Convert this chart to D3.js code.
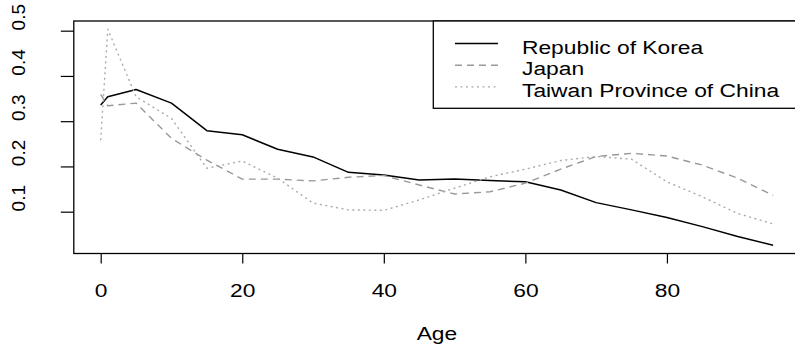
<!DOCTYPE html>
<html>
<head>
    <title>Age profile</title>
    <script src="https://cdnjs.cloudflare.com/ajax/libs/d3/7.8.5/d3.min.js"></script>
    <style>
        body { margin: 0; background: #fff; }
        svg { display: block; font-family: Arial, "Liberation Sans", sans-serif; }
        .axis path { display: none; }
        .axis line { stroke: #000; stroke-width: 1.2; }
        .axis text { fill: #000; font-size: 19px; }
    </style>
</head>
<body>
    <div id="chart"></div>
    <script>
        const ages = [0, 1, 5, 10, 15, 20, 25, 30, 35, 40, 45, 50, 55, 60, 65, 70, 75, 80, 85, 90, 95];
        const korea = [0.336, 0.354, 0.370, 0.340, 0.279, 0.270, 0.238, 0.221, 0.187, 0.181, 0.170, 0.172, 0.169, 0.166, 0.148, 0.120, 0.104, 0.087, 0.067, 0.045, 0.026];
        const japan = [0.359, 0.334, 0.340, 0.262, 0.214, 0.172, 0.172, 0.168, 0.176, 0.180, 0.159, 0.139, 0.144, 0.163, 0.194, 0.222, 0.229, 0.223, 0.203, 0.174, 0.136];
        const taiwan = [0.258, 0.503, 0.354, 0.306, 0.196, 0.212, 0.174, 0.119, 0.104, 0.103, 0.126, 0.152, 0.177, 0.194, 0.213, 0.222, 0.216, 0.166, 0.133, 0.096, 0.073];
        const seriesNames = ["Republic of Korea", "Japan", "Taiwan Province of China"];
        const xTicks = [0, 20, 40, 60, 80];
        const yTicks = [0.1, 0.2, 0.3, 0.4, 0.5];

        const W = 795, H = 346;
        // plot box runs slightly past the right edge of the picture
        const box = {left: 73.8, right: 800, top: 21, bottom: 253.5};
        const sx = 1.2; // horizontal text stretch seen in the reference

        const svg = d3.select("#chart")
            .append("svg")
            .attr("width", W)
            .attr("height", H);

        const x = d3.scaleLinear()
            .domain([-3.8, 98.8])
            .range([box.left, box.right]);

        const y = d3.scaleLinear()
            .domain([0.0076, 0.5214])
            .range([box.bottom, box.top]);

        const styles = [
            {color: "#000", width: 1.5, dash: null},
            {color: "#999", width: 1.4, dash: "7,5"},
            {color: "#aaa", width: 1.4, dash: "2,3.5"}
        ];
        const series = [korea, japan, taiwan];

        const line = d3.line()
            .x((d, i) => x(ages[i]))
            .y(d => y(d));

        series.forEach((vals, k) => {
            svg.append("path")
                .datum(vals)
                .attr("fill", "none")
                .attr("stroke", styles[k].color)
                .attr("stroke-width", styles[k].width)
                .attr("stroke-dasharray", styles[k].dash)
                .attr("stroke-linejoin", "round")
                .attr("d", line);
        });

        // box
        svg.append("rect")
            .attr("x", box.left)
            .attr("y", box.top)
            .attr("width", box.right - box.left)
            .attr("height", box.bottom - box.top)
            .attr("fill", "none")
            .attr("stroke", "#000")
            .attr("stroke-width", 1.3);

        // x axis
        const gx = svg.append("g")
            .attr("class", "axis")
            .attr("transform", `translate(0,${box.bottom})`)
            .call(d3.axisBottom(x)
                .tickValues(xTicks)
                .tickSize(10)
                .tickFormat(d3.format("d")));
        gx.selectAll("text")
            .attr("y", 0)
            .attr("dy", 0)
            .attr("transform", `translate(0,43) scale(${sx},1)`);

        // y axis, labels turned like R's las=0
        const gy = svg.append("g")
            .attr("class", "axis")
            .attr("transform", `translate(${box.left},0)`)
            .call(d3.axisLeft(y)
                .tickValues(yTicks)
                .tickSize(13)
                .tickFormat(d3.format(".1f")));
        gy.selectAll("text")
            .attr("x", 14)
            .attr("y", 25 - box.left)
            .attr("dy", 0)
            .attr("text-anchor", "middle")
            .attr("transform", "rotate(-90)");

        svg.append("text")
            .attr("text-anchor", "middle")
            .attr("transform", `translate(${(box.left + box.right) / 2},340) scale(${sx},1)`)
            .style("font-size", "19px")
            .text("Age");

        // legend, top right
        const legend = svg.append("g");
        legend.append("rect")
            .attr("x", 433.3)
            .attr("y", box.top)
            .attr("width", box.right - 433.3)
            .attr("height", 108.3 - box.top)
            .attr("fill", "#fff")
            .attr("stroke", "#000")
            .attr("stroke-width", 1.3);

        seriesNames.forEach((name, i) => {
            const ly = 43.5 + i * 21.7;
            legend.append("line")
                .attr("x1", 455)
                .attr("x2", 498)
                .attr("y1", ly)
                .attr("y2", ly)
                .attr("stroke", styles[i].color)
                .attr("stroke-width", styles[i].width)
                .attr("stroke-dasharray", styles[i].dash);
            legend.append("text")
                .attr("transform", `translate(522,${ly + 10}) scale(${sx},1)`)
                .style("font-size", "19px")
                .text(name);
        });
    </script>
</body>
</html>
